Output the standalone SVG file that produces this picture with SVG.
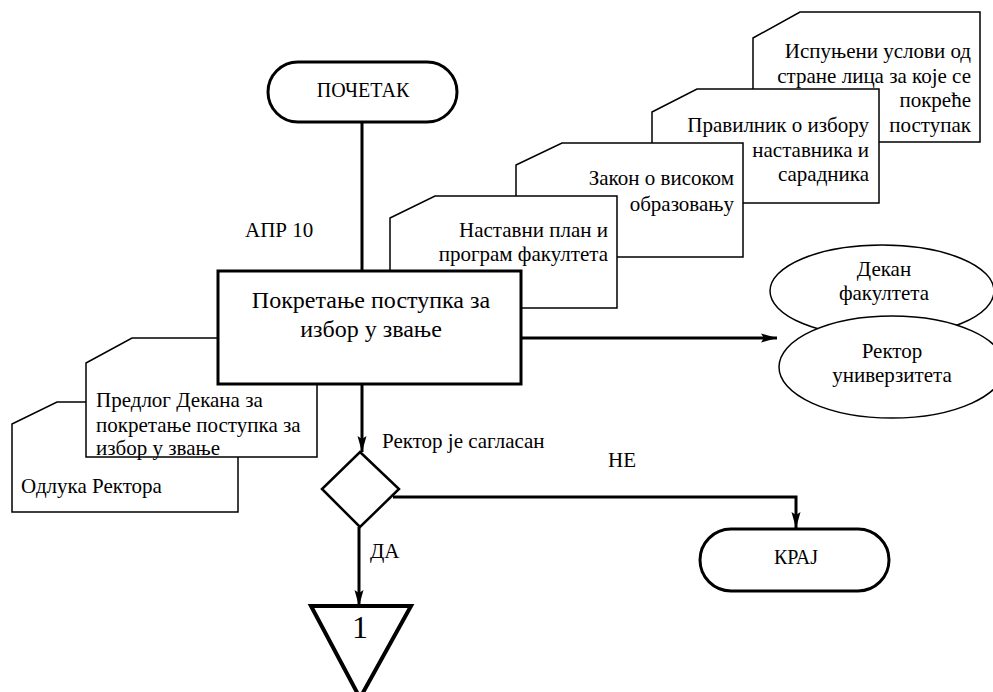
<svg xmlns="http://www.w3.org/2000/svg" width="993" height="692" viewBox="0 0 993 692" font-family="'Liberation Serif', 'Times New Roman', 'DejaVu Serif', serif">
<style>
text{font-family:'Liberation Serif','Times New Roman','DejaVu Serif',serif;fill:#000}
.t20{font-size:20px}
.t21{font-size:21px}
.doc{fill:#fff;stroke:#000;stroke-width:1.5}
.thick{fill:#fff;stroke:#000;stroke-width:3}
.conn{fill:none;stroke:#000;stroke-width:3}
.ell{fill:#fff;stroke:#000;stroke-width:1.5}
.r{text-anchor:end}
.m{text-anchor:middle}
</style>
<defs>
<marker id="ah" markerUnits="userSpaceOnUse" markerWidth="16" markerHeight="12" refX="16" refY="6" orient="auto">
<path d="M0,1.5 L16,6 L0,10.5 L3,6 Z" fill="#000"/>
</marker>
</defs>
<rect width="993" height="692" fill="#fff"/>

<g id="doc-ispunjeni">
<path class="doc" d="M753,38 L800,12 L980,12 L980,142 L753,142 Z"/>
<text class="t21 r" x="971" y="58">Испуњени услови од</text>
<text class="t21 r" x="971" y="83">стране лица за које се</text>
<text class="t21 r" x="971" y="107">покреће</text>
<text class="t21 r" x="971" y="132">поступак</text>
</g>
<g id="doc-pravilnik">
<path class="doc" d="M652,112 L697,89 L879,89 L879,203 L652,203 Z"/>
<text class="t21 r" x="869" y="132">Правилник о избору</text>
<text class="t21 r" x="869" y="157">наставника и</text>
<text class="t21 r" x="869" y="181">сарадника</text>
</g>
<g id="doc-zakon">
<path class="doc" d="M516,165 L562,143 L743,143 L743,257 L516,257 Z"/>
<text class="t21 r" x="734" y="185">Закон о високом</text>
<text class="t21 r" x="734" y="211">образовању</text>
</g>
<g id="doc-plan">
<path class="doc" d="M390,218 L435,196 L617,196 L617,308 L390,308 Z"/>
<text class="t21 r" x="608" y="237">Наставни план и</text>
<text class="t21 r" x="608" y="261">програм факултета</text>
</g>

<g id="doc-odluka">
<path class="doc" d="M12,424 L57,402 L238,402 L238,512 L12,512 Z"/>
<text class="t21" x="21" y="493">Одлука Ректора</text>
</g>
<g id="doc-predlog">
<path class="doc" d="M86,363 L132,338 L317,338 L317,457 L86,457 Z"/>
<text class="t21" x="96" y="407">Предлог Декана за</text>
<text class="t21" x="96" y="432">покретање поступка за</text>
<text class="t21" x="96" y="455">избор у звање</text>
</g>

<g id="connectors">
<path class="conn" d="M362,122 V271"/>
<path class="conn" d="M521,338 H777" marker-end="url(#ah)"/>
<path class="conn" d="M362,384 V452" marker-end="url(#ah)"/>
<path class="conn" d="M393,497 H796 V528" marker-end="url(#ah)"/>
<path class="conn" d="M359,527 V606" marker-end="url(#ah)"/>
<text class="t21" x="245" y="237">АПР 10</text>
<text class="t21" x="382" y="448">Ректор је сагласан</text>
<text class="t21" x="608" y="467">НЕ</text>
<text class="t21" x="370" y="558">ДА</text>
</g>

<g id="start">
<rect class="thick" x="268" y="62" width="189" height="60" rx="30"/>
<text class="t20 m" x="363" y="97">ПОЧЕТАК</text>
</g>

<g id="process">
<rect class="thick" x="218" y="271" width="303" height="113"/>
<text class="m" style="font-size:24px" x="371" y="308">Покретање поступка за</text>
<text class="m" style="font-size:24px" x="371" y="337">избор у звање</text>
</g>

<g id="dekan">
<ellipse class="ell" cx="882" cy="291" rx="112" ry="46"/>
<text class="t21 m" x="884" y="276">Декан</text>
<text class="t21 m" x="884" y="300">факултета</text>
</g>
<g id="rektor">
<ellipse class="ell" cx="892" cy="367" rx="113" ry="51"/>
<text class="t21 m" x="892" y="358">Ректор</text>
<text class="t21 m" x="892" y="382">универзитета</text>
</g>

<g id="decision">
<polygon class="thick" points="360,452 399,489 360,527 322,489" style="stroke-width:2.5"/>
</g>

<g id="end">
<rect class="thick" x="700" y="529" width="189" height="62" rx="31"/>
<text class="t20 m" x="796" y="564">КРАЈ</text>
</g>

<g id="offpage">
<path d="M311,606 L411,606 L360,698 Z" fill="#fff" stroke="#000" stroke-width="4"/>
<text class="m" style="font-size:32px" x="360" y="638">1</text>
</g>
</svg>
